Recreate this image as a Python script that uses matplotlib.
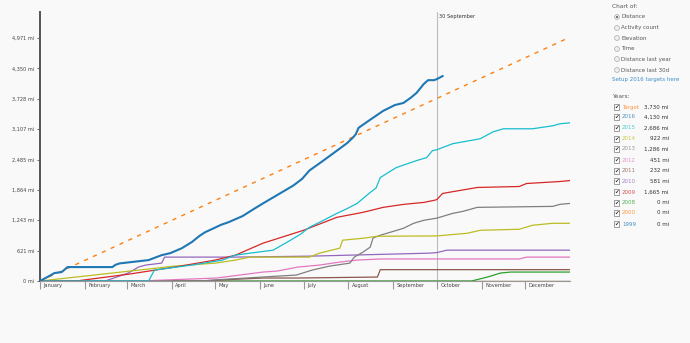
import matplotlib
matplotlib.use("Agg")
import matplotlib.pyplot as plt
import matplotlib.transforms as mtransforms
from matplotlib.patches import Circle, Rectangle

# ---------------- data (day of year, cumulative miles) ----------------
months = ["January", "February", "March", "April", "May", "June", "July",
          "August", "September", "October", "November", "December"]
month_starts = [0, 31, 60, 91, 121, 152, 182, 213, 244, 274, 305, 335]
year_end = 366

y_ticks = [0, 621, 1243, 1864, 2485, 3107, 3728, 4350, 4971]
y_tick_labels = ["0 mi", "621 mi", "1,243 mi", "1,864 mi", "2,485 mi",
                 "3,107 mi", "3,728 mi", "4,350 mi", "4,971 mi"]

today_day = 274
today_label = "30 September"

target_days = [0, 366]
target_miles = [0, 4990]

d2016 = [0, 5, 10, 15, 19, 50, 52, 55, 75, 84, 90, 98, 105, 110, 114, 120, 125, 130,
         140, 148, 154, 165, 175, 181, 186, 195, 205, 212, 216, 218, 220, 228, 237,
         245, 251, 256, 260, 265, 268, 272, 274, 278]
m2016 = [0, 80, 163, 183, 285, 285, 330, 360, 428, 529, 570, 672, 800, 920, 998, 1080,
         1150, 1201, 1330, 1480, 1588, 1780, 1955, 2090, 2260, 2450, 2667, 2820, 2932,
         3000, 3135, 3300, 3482, 3600, 3644, 3750, 3848, 4031, 4110, 4110, 4130, 4194]

d2015 = [0, 75, 79, 105, 126, 135, 145, 161, 173, 180, 186, 195, 205, 212, 219, 228,
         232, 235, 246, 260, 267, 271, 274, 285, 304, 313, 320, 340, 354, 359, 366]
m2015 = [0, 0, 224, 326, 428, 529, 570, 631, 835, 960, 1099, 1230, 1384, 1480, 1588,
         1812, 1900, 2117, 2321, 2464, 2525, 2667, 2686, 2810, 2911, 3054, 3115, 3115,
         3176, 3217, 3237]

d2014 = [0, 50, 93, 121, 135, 145, 186, 193, 207, 209, 223, 233, 274, 295, 304, 331,
         340, 354, 366]
m2014 = [0, 163, 305, 366, 428, 489, 489, 570, 672, 835, 875, 916, 922, 977, 1038,
         1059, 1140, 1181, 1181]

d2013 = [0, 110, 131, 177, 188, 200, 214, 217, 223, 228, 230, 235, 242, 251, 258, 265,
         269, 274, 285, 292, 302, 354, 359, 366]
m2013 = [0, 0, 41, 122, 224, 305, 366, 489, 590, 692, 880, 937, 998, 1079, 1181, 1242,
         1262, 1286, 1384, 1425, 1507, 1527, 1568, 1588]

d2012 = [0, 69, 122, 154, 164, 178, 193, 207, 219, 233, 237, 274, 331, 336, 366]
m2012 = [0, 0, 61, 183, 204, 285, 326, 387, 428, 448, 451, 451, 451, 489, 489]

d2011 = [0, 110, 124, 154, 178, 233, 235, 366]
m2011 = [0, 0, 20, 61, 61, 81, 232, 232]

d2010 = [0, 45, 61, 68, 73, 84, 86, 135, 187, 269, 274, 281, 366]
m2010 = [0, 0, 163, 285, 326, 366, 489, 489, 509, 570, 581, 631, 631]

d2009 = [0, 25, 62, 93, 121, 135, 154, 182, 205, 223, 237, 251, 265, 272, 274, 278,
         302, 331, 336, 359, 366]
m2009 = [0, 0, 143, 285, 428, 529, 774, 1038, 1303, 1405, 1507, 1568, 1608, 1650,
         1665, 1792, 1914, 1934, 1995, 2036, 2056]

d2008 = [0, 298, 309, 318, 325, 366]
m2008 = [0, 0, 81, 163, 183, 183]

d2000 = [0, 366]
m2000 = [0, 0]

d1999 = [0, 366]
m1999 = [0, 0]

chart_options = ["Distance", "Activity count", "Elevation", "Time",
                 "Distance last year", "Distance last 30d"]
legend_years = ["Target", "2016", "2015", "2014", "2013", "2012", "2011", "2010",
                "2009", "2008", "2000", "1999"]
legend_values = ["3,730 mi", "4,130 mi", "2,686 mi", "922 mi", "1,286 mi", "451 mi",
                 "232 mi", "581 mi", "1,665 mi", "0 mi", "0 mi", "0 mi"]

# ---------------- styling ----------------
C = {
    "Target": "#ff7f0e", "2016": "#1f77b4", "2015": "#17becf", "2014": "#bcbd22",
    "2013": "#7f7f7f", "2012": "#e377c2", "2011": "#8c564b", "2010": "#9467bd",
    "2009": "#d62728", "2008": "#2ca02c", "2000": "#ff7f0e", "1999": "#1f77b4",
}
BG = "#f9f9f9"

fig = plt.figure(figsize=(6.9, 3.43), dpi=100, facecolor=BG)
ax = fig.add_axes([40 / 690, 1 - 281 / 343, 530 / 690, (281 - 12) / 343])
ax.set_facecolor(BG)

series = [
    ("1999", d1999, m1999), ("2000", d2000, m2000), ("2008", d2008, m2008),
    ("2011", d2011, m2011), ("2012", d2012, m2012), ("2010", d2010, m2010),
    ("2013", d2013, m2013), ("2014", d2014, m2014), ("2009", d2009, m2009),
    ("2015", d2015, m2015),
]
for name, d, m in series:
    ax.plot(d, m, color=C[name], lw=0.9, solid_joinstyle="round", zorder=2)

ax.plot(target_days, target_miles, color=C["Target"], lw=1.0,
        dashes=(3, 4), zorder=3)
ax.plot(d2016, m2016, color=C["2016"], lw=1.5, solid_joinstyle="round", zorder=4)

# today line
ax.axvline(today_day, color="#b8bcc4", lw=0.8, zorder=1)
ax.text(today_day + 1.5, 5420, today_label, fontsize=3.6, color="#333333",
        ha="left", va="center")

ax.set_xlim(0, year_end)
ax.set_ylim(0, 5505)

for s in ["top", "right"]:
    ax.spines[s].set_visible(False)
ax.spines["left"].set_color("#555555")
ax.spines["left"].set_linewidth(1.4)
ax.spines["bottom"].set_color("#999999")
ax.spines["bottom"].set_linewidth(0.8)

ax.set_yticks(y_ticks)
ax.set_yticklabels(y_tick_labels)
ax.tick_params(axis="y", length=2.5, width=0.6, color="#555555",
               labelsize=3.6, labelcolor="#444444", pad=1.5)

ax.set_xticks(month_starts)
ax.set_xticklabels([""] * len(month_starts))
ax.tick_params(axis="x", length=6, width=0.8, color="#999999")
trans = mtransforms.blended_transform_factory(ax.transData, ax.transAxes)
for ms, name in zip(month_starts, months):
    ax.text(ms + 2.5, -0.016, name, transform=trans, fontsize=3.6,
            color="#444444", ha="left", va="center")

# ---------------- right-hand panel ----------------
def px(x, y):
    return x / 690, 1 - y / 343

fig.text(*px(612, 7), "Chart of:", fontsize=4.2, color="#555555", va="center")
opt_y = [17, 28, 38, 49, 59, 70]
for i, (lab, yy) in enumerate(zip(chart_options, opt_y)):
    fig.patches.append(Circle((617, 343 - yy), 2.4, transform=None,
                              facecolor="#eeeeee", edgecolor="#aaaaaa", lw=0.5))
    if i == 0:
        fig.patches.append(Circle((617, 343 - yy), 1.1, transform=None,
                                  facecolor="#666666", edgecolor="none"))
    fig.text(*px(621, yy), lab, fontsize=4.0, color="#555555", va="center")
fig.text(*px(612, 80), "Setup 2016 targets here", fontsize=4.0,
         color="#3a8fc8", va="center")

fig.text(*px(612, 97), "Years:", fontsize=4.2, color="#555555", va="center")
row_y = [107, 117, 128, 139, 149, 160, 171, 181, 192, 203, 213, 224]
for name, val, yy in zip(legend_years, legend_values, row_y):
    fig.patches.append(Rectangle((614, 343 - yy - 2.6), 5.2, 5.2, transform=None,
                                 facecolor="#ffffff", edgecolor="#777777", lw=0.5))
    fig.text(*px(616.6, yy), "\u2714", fontsize=4.0, color="#333333",
             ha="center", va="center")
    fig.text(*px(622, yy), name, fontsize=4.0, color=C[name], alpha=0.8,
             va="center")
    fig.text(*px(669, yy), val, fontsize=4.0, color="#333333",
             ha="right", va="center")

fig.savefig("out.png", dpi=100, facecolor=BG)
